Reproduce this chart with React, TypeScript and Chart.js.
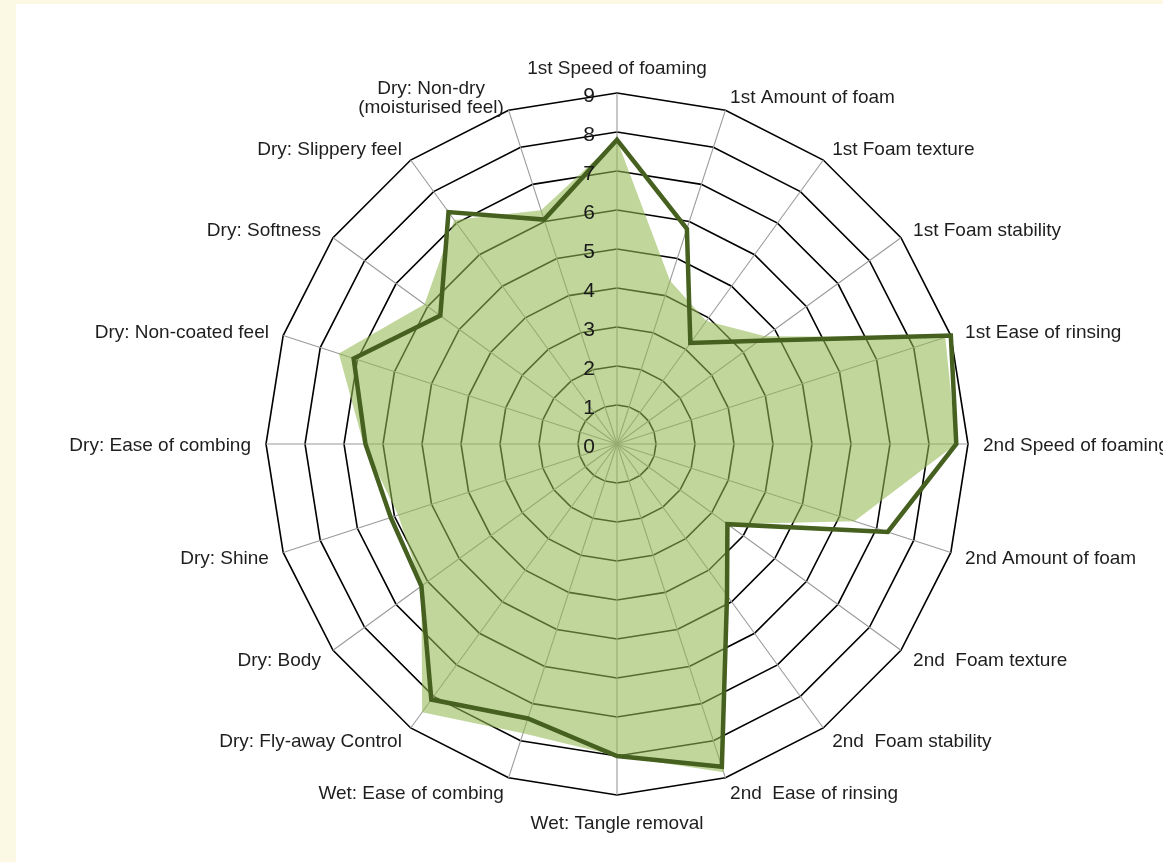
import React, { useEffect, useRef } from 'react';
import { Chart, registerables } from 'chart.js';

Chart.register(...registerables);

const categories: (string | string[])[] = [
  '1st Speed of foaming',
  '1st Amount of foam',
  '1st Foam texture',
  '1st Foam stability',
  '1st Ease of rinsing',
  '2nd Speed of foaming',
  '2nd Amount of foam',
  '2nd  Foam texture',
  '2nd  Foam stability',
  '2nd  Ease of rinsing',
  'Wet: Tangle removal',
  'Wet: Ease of combing',
  'Dry: Fly-away Control',
  'Dry: Body',
  'Dry: Shine',
  'Dry: Ease of combing',
  'Dry: Non-coated feel',
  'Dry: Softness',
  'Dry: Slippery feel',
  ['Dry: Non-dry', '(moisturised feel)'],
];

const outlineSeries = [7.8, 5.8, 3.2, 4.5, 9.0, 8.7, 7.3, 3.5, 4.8, 8.7, 8.0, 7.4, 8.1, 6.2, 6.1, 6.45, 7.1, 5.6, 7.35, 6.05];
const fillSeries = [7.8, 4.4, 3.9, 4.7, 8.85, 8.7, 6.4, 3.5, 4.8, 8.85, 8.0, 7.8, 8.5, 6.2, 5.9, 6.5, 7.5, 6.1, 7.1, 6.3];
const tickValues = [0, 1, 2, 3, 4, 5, 6, 7, 8, 9];

const FONT = '"Liberation Sans", Arial, Helvetica, sans-serif';

const excelLabels = {
  id: 'excelLabels',
  afterDraw(chart: any) {
    const s = chart.scales.r;
    const ctx = chart.ctx as CanvasRenderingContext2D;
    ctx.save();
    ctx.fillStyle = '#1a1a1a';
    ctx.textAlign = 'center';
    ctx.textBaseline = 'middle';
    ctx.font = `21px ${FONT}`;
    tickValues.forEach((v) => {
      const d = s.getDistanceFromCenterForValue(v);
      ctx.fillText(String(v), s.xCenter - 28, s.yCenter - d + 3);
    });

    ctx.font = `19px ${FONT}`;
    ctx.fillStyle = '#1e1e1e';
    const n = categories.length;
    const lh = 19;
    categories.forEach((lab, i) => {
      const lines = Array.isArray(lab) ? lab : [lab];
      const p = s.getPointPosition(i, s.drawingArea + 15);
      const deg = Math.round((i * 360) / n);
      const maxW = Math.max(...lines.map((l) => ctx.measureText(l).width));
      const blockH = lh * lines.length;
      let cx: number;
      let top: number;
      if (deg === 0) {
        cx = p.x;
        top = p.y - blockH;
      } else if (deg === 180) {
        cx = p.x;
        top = p.y + 4;
      } else if (deg < 180) {
        cx = p.x + maxW / 2;
        top = p.y - blockH / 2 + 2;
      } else {
        cx = p.x - maxW / 2;
        top = p.y - blockH / 2 + 2;
      }
      lines.forEach((l, k) => ctx.fillText(l, cx, top + lh * k + lh / 2));
    });
    ctx.restore();
  },
};

export default function App() {
  const ref = useRef<HTMLCanvasElement | null>(null);

  useEffect(() => {
    if (!ref.current) return;
    const chart = new Chart(ref.current, {
      type: 'radar',
      data: {
        labels: categories as any,
        datasets: [
          {
            label: 'Outline',
            data: outlineSeries,
            borderColor: '#45601f',
            backgroundColor: 'transparent',
            borderWidth: 4.5,
            borderJoinStyle: 'miter',
            fill: false,
            pointRadius: 0,
          },
          {
            label: 'Fill',
            data: fillSeries,
            borderColor: 'transparent',
            backgroundColor: 'rgba(148,184,82,0.58)',
            borderWidth: 0,
            fill: 'origin',
            pointRadius: 0,
          },
        ],
      },
      options: {
        responsive: false,
        animation: false,
        layout: { padding: { left: 266, top: 93, right: 195, bottom: 67 } },
        elements: { line: { tension: 0 } },
        plugins: { legend: { display: false }, tooltip: { enabled: false } },
        scales: {
          r: {
            min: 0,
            max: 9,
            ticks: { display: false, stepSize: 1 },
            grid: { color: '#000', lineWidth: 1.6, circular: false },
            angleLines: { color: '#9a9a9a', lineWidth: 1.1 },
            pointLabels: { display: false },
          },
        },
      },
      plugins: [excelLabels],
    });
    return () => chart.destroy();
  }, []);

  return (
    <div
      style={{
        position: 'fixed',
        left: 0,
        top: 0,
        width: 1163,
        height: 862,
        background: '#fbf8e3',
        overflow: 'hidden',
      }}
    >
      <div style={{ position: 'absolute', left: 16, top: 4, right: 0, bottom: 0, background: '#fff' }} />
      <canvas ref={ref} width={1163} height={862} style={{ position: 'absolute', left: 0, top: 0 }} />
    </div>
  );
}
